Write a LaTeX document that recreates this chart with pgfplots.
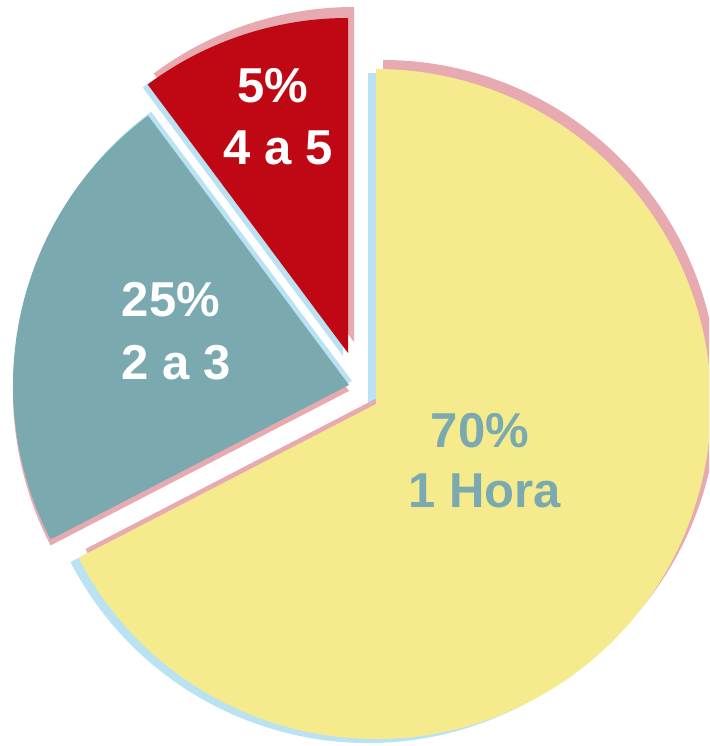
\documentclass[border=0pt]{standalone}
\usepackage{fontspec}
\setmainfont{Liberation Sans}
\usepackage{pgfplots}
\pgfplotsset{compat=1.18}
\definecolor{cRed}{RGB}{192,8,20}
\definecolor{cTeal}{RGB}{122,170,176}
\definecolor{cYel}{RGB}{245,234,140}
\definecolor{cPink}{RGB}{230,170,176}
\definecolor{cBlue}{RGB}{186,226,242}
% slice shares of the circle as drawn (percent)
\def\vRed{10.2}
\def\vTeal{22.4}
\def\vYel{67.4}
\pgfmathsetmacro\aA{90}
\pgfmathsetmacro\aB{\aA+3.6*\vRed}
\pgfmathsetmacro\aC{\aB+3.6*\vTeal}
\pgfmathsetmacro\aD{\aC+3.6*\vYel}
% color, cx, cy, radius, start, end
\newcommand\wedgeat[6]{\fill[#1] (axis cs:#2,#3) -- ++(#5:#4) arc[start angle=#5, end angle=#6, radius=#4] -- cycle;}
\begin{document}
\begin{tikzpicture}
\begin{axis}[hide axis, scale only axis, x=0.5pt, y=0.5pt,
  xmin=0, xmax=709, ymin=0, ymax=746, clip=true]
\path[draw=none] (rel axis cs:0,0) rectangle (rel axis cs:1,1);
% blue shadows
\wedgeat{cBlue}{368}{338}{167.5pt}{\aC}{\aD}
\wedgeat{cBlue}{352}{365}{168pt}{\aB}{\aC}
\wedgeat{cBlue}{343}{390}{167.5pt}{\aA}{\aB}
% pink shadows
\wedgeat{cPink}{383}{351}{167.5pt}{\aC}{\aD}
\wedgeat{cPink}{349}{355}{168pt}{\aB}{\aC}
\wedgeat{cPink}{354}{404}{167.5pt}{\aA}{\aB}
% slices
\wedgeat{cYel}{376}{342}{167.5pt}{\aC}{\aD}
\wedgeat{cTeal}{349}{361}{168pt}{\aB}{\aC}
\wedgeat{cRed}{348}{393}{167.5pt}{\aA}{\aB}
% labels
\begin{scope}[every node/.style={anchor=base, inner sep=0pt, font=\fontsize{24.5}{30}\selectfont\bfseries}]
\node[text=white] at (axis cs:273,643) {5\%};
\node[text=white] at (axis cs:278,581) {4 a 5};
\node[text=white] at (axis cs:171,429) {25\%};
\node[text=white] at (axis cs:176,366) {2 a 3};
\node[text=cTeal] at (axis cs:480,298) {70\%};
\node[text=cTeal] at (axis cs:485,238) {1 Hora};
\end{scope}
\end{axis}
\end{tikzpicture}
\end{document}
